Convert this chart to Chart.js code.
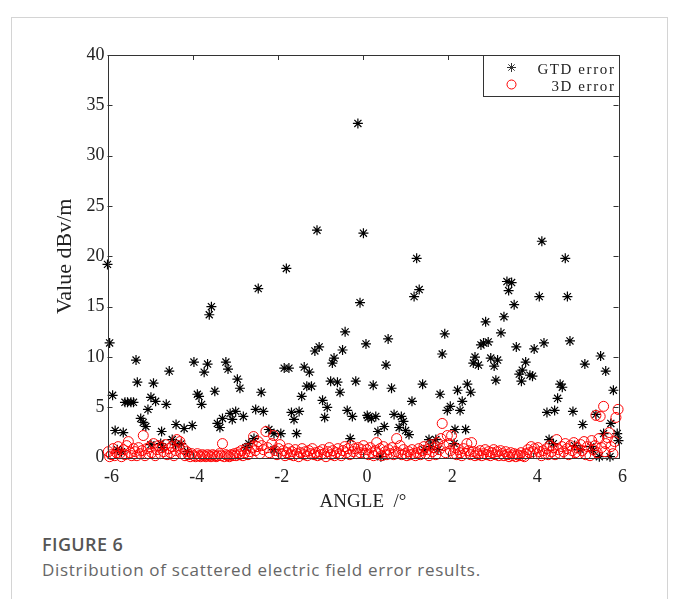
<!DOCTYPE html>
<html lang="en">
<head>
    <meta charset="UTF-8">
    <script src="https://cdn.jsdelivr.net/npm/chart.js"></script>
    <style>
        body {
            margin: 0;
            padding: 0;
            background: #fff;
            width: 680px;
            height: 599px;
            overflow: hidden;
            position: relative;
        }

        .card {
            position: absolute;
            left: 11px;
            top: 17px;
            width: 655px;
            height: 640px;
            border: 1px solid #d4d4d4;
        }

        .plot {
            position: absolute;
            left: 0;
            top: 0;
            width: 680px;
            height: 520px;
        }

        .fig-label {
            position: absolute;
            left: 42px;
            top: 535px;
            font-family: "Open Sans", sans-serif;
            font-weight: 600;
            font-size: 18px;
            line-height: 18px;
            letter-spacing: 0.4px;
            color: #555;
            white-space: nowrap;
        }

        .fig-text {
            position: absolute;
            left: 42px;
            top: 561px;
            font-family: "Open Sans", sans-serif;
            font-size: 17px;
            line-height: 17px;
            letter-spacing: 0.7px;
            color: #666;
            white-space: nowrap;
        }
    </style>
    <title>Distribution of scattered electric field error results</title>
</head>
<body>
    <div class="card"></div>
    <div class="plot"><canvas id="errChart" width="680" height="520"></canvas></div>
    <div class="fig-label">FIGURE 6</div>
    <div class="fig-text">Distribution of scattered electric field error results.</div>
    <script>
        // GTD error points [angle, value]
        const gtdPoints = [
            [-0.12, 33.2], [-1.08, 22.6], [0.01, 22.3], [4.2, 21.5], [4.75, 19.8], [1.26, 19.8],
            [-6.0, 19.2], [-5.95, 11.4], [-5.33, 9.7], [-4.55, 8.6], [-3.97, 9.5], [-3.65, 9.3],
            [-3.73, 8.5], [-3.22, 9.5], [-3.17, 8.8], [-2.95, 7.8], [-3.56, 15.0], [-3.61, 14.2],
            [-5.30, 7.5], [-4.92, 7.4], [-5.88, 6.2], [-5.59, 5.5], [-5.53, 5.5], [-5.45, 5.5],
            [-5.39, 5.5], [-4.98, 6.0], [-4.87, 5.6], [-5.05, 4.8], [-4.62, 5.3], [-3.89, 6.3],
            [-3.85, 6.1], [-3.79, 5.3], [-3.48, 6.6], [-5.22, 3.9], [-5.16, 3.5], [-5.10, 3.1],
            [-5.82, 2.7], [-5.63, 2.5], [-4.73, 2.6], [-4.39, 3.3], [-4.20, 2.9], [-4.01, 3.2],
            [-3.42, 3.4], [-3.36, 3.0], [-3.30, 3.9], [-3.12, 4.4], [-3.07, 3.8], [-2.99, 4.6],
            [-4.75, 1.4], [-4.70, 1.0], [-4.48, 1.8], [-4.40, 1.3], [-4.27, 1.4], [-4.12, 0.6],
            [-5.77, 0.8], [-5.67, 0.6], [-4.98, 1.3],
            [-1.80, 18.8], [-2.46, 16.8], [-0.07, 15.4], [-0.42, 12.5], [0.07, 11.3], [-1.03, 11.0],
            [-1.13, 10.6], [-0.48, 10.7], [-0.68, 9.9], [-0.72, 9.4], [-1.85, 8.9], [-1.74, 8.9],
            [-1.38, 9.0], [-1.26, 8.5], [-2.89, 6.9], [-2.39, 6.5], [-1.32, 7.1], [-1.21, 7.1],
            [-0.76, 7.6], [-0.60, 7.5], [-0.17, 7.6], [-0.54, 6.5], [-1.44, 6.1], [-0.95, 5.7],
            [-0.84, 5.0], [-0.90, 4.0], [-0.37, 4.7], [-0.25, 4.1], [0.10, 4.2], [-2.81, 4.1],
            [-2.52, 4.8], [-2.34, 4.6], [-1.68, 4.5], [-1.50, 4.6], [-1.62, 3.8], [-1.56, 2.4],
            [-1.93, 2.4], [-2.09, 2.4], [-2.21, 2.8], [-0.30, 1.9], [-2.68, 1.4], [-2.75, 1.0],
            [-2.09, 0.8], [-2.56, 1.9],
            [1.32, 16.7], [1.20, 16.0], [0.59, 11.8], [0.54, 9.2], [0.24, 7.2], [0.67, 6.9],
            [1.40, 7.3], [1.15, 5.6], [1.92, 12.3], [1.86, 10.3], [1.81, 6.3], [2.22, 6.7],
            [2.45, 7.3], [2.53, 6.5], [2.05, 5.1], [1.98, 4.7], [2.33, 5.6], [2.28, 4.7],
            [2.88, 13.5], [2.77, 11.2], [2.83, 11.4], [2.94, 11.5], [2.63, 10.0], [2.59, 9.4],
            [2.71, 9.2], [3.00, 9.9], [3.08, 9.1], [3.16, 9.7], [3.12, 7.7], [0.12, 4.0],
            [0.20, 3.9], [0.30, 4.1], [0.73, 4.3], [0.90, 4.1], [0.95, 3.6], [0.50, 3.1],
            [0.35, 2.6], [0.85, 3.0], [1.00, 2.7], [1.08, 2.3], [2.16, 2.8], [2.41, 2.8],
            [1.55, 1.8], [1.71, 1.8], [1.59, 1.1], [1.76, 0.8], [1.43, 0.8], [2.14, 1.4], [0.42, 0.1],
            [3.38, 17.5], [3.49, 17.4], [3.42, 16.6], [3.55, 15.2], [4.14, 16.0], [4.80, 16.0],
            [3.31, 14.0], [3.24, 12.4], [3.60, 11.0], [4.02, 10.8], [4.25, 11.4], [4.86, 11.6],
            [3.82, 9.5], [3.74, 8.7], [3.67, 8.3], [3.72, 7.6], [3.92, 8.2], [3.98, 8.1],
            [5.58, 10.1], [5.21, 9.3], [5.70, 8.6], [4.63, 7.3], [4.68, 7.0], [5.88, 6.7],
            [4.57, 5.9], [4.32, 4.5], [4.50, 4.7], [4.93, 4.6], [5.47, 4.3], [5.16, 3.3],
            [5.82, 3.4], [5.65, 2.4], [5.97, 2.4], [4.37, 1.8], [4.47, 1.4], [6.0, 1.7],
            [4.97, 1.2], [5.10, 0.8], [5.35, 1.1], [5.41, 0.7], [5.55, 0.1], [5.80, 0.1]
        ];

        // 3D error points [angle, value]
        const errPoints = [
            [-5.98, 0.6], [-5.95, 0.1], [-5.91, 0.3], [-5.87, 0.9], [-5.83, 0.2], [-5.79, 0.5], [-5.75, 1.1],
            [-5.71, 0.4], [-5.67, 0.1], [-5.63, 0.8], [-5.59, 0.3], [-5.55, 1.2], [-5.51, 1.6], [-5.47, 0.5],
            [-5.43, 0.2], [-5.39, 0.9], [-5.35, 0.6], [-5.31, 0.2], [-5.27, 1.0], [-5.23, 0.4], [-5.19, 0.7],
            [-5.16, 2.2], [-5.12, 0.2], [-5.08, 0.9], [-5.04, 0.4],
            [-5.00, 1.1], [-4.96, 0.5], [-4.92, 1.4], [-4.88, 0.2], [-4.84, 0.8], [-4.80, 1.2], [-4.76, 0.4],
            [-4.72, 1.0], [-4.68, 0.6], [-4.64, 1.3], [-4.60, 0.3], [-4.56, 0.9], [-4.52, 0.5], [-4.48, 1.1],
            [-4.44, 0.2], [-4.40, 0.7], [-4.37, 1.8], [-4.33, 1.2], [-4.30, 1.6], [-4.26, 0.4], [-4.22, 0.9],
            [-4.18, 0.2], [-4.14, 0.6], [-4.10, 0.3], [-4.06, 0.1], [-4.02, 0.4],
            [-3.97, 0.2], [-3.93, 0.1], [-3.89, 0.4], [-3.85, 0.2], [-3.81, 0.1], [-3.77, 0.3], [-3.73, 0.2],
            [-3.69, 0.1], [-3.65, 0.3], [-3.61, 0.2], [-3.57, 0.1], [-3.53, 0.3], [-3.49, 0.2], [-3.45, 0.1],
            [-3.41, 0.2], [-3.37, 0.4], [-3.33, 0.2], [-3.30, 1.4], [-3.26, 0.1], [-3.22, 0.3], [-3.18, 0.2],
            [-3.14, 0.1], [-3.10, 0.3], [-3.06, 0.2], [-3.02, 0.4],
            [-2.98, 0.2], [-2.94, 0.5], [-2.90, 0.3], [-2.86, 0.7], [-2.82, 0.2], [-2.78, 0.5], [-2.74, 0.9],
            [-2.70, 0.3], [-2.66, 0.6], [-2.62, 1.0], [-2.57, 2.1], [-2.53, 0.7], [-2.49, 1.1], [-2.46, 1.6],
            [-2.42, 0.4], [-2.38, 1.2], [-2.34, 0.8], [-2.28, 2.6], [-2.24, 1.0], [-2.20, 0.5], [-2.14, 1.4],
            [-2.10, 2.2], [-2.06, 0.7], [-2.02, 0.3],
            [-1.98, 0.9], [-1.95, 1.3], [-1.91, 0.4], [-1.87, 0.7], [-1.83, 0.2], [-1.79, 0.5], [-1.75, 0.9],
            [-1.71, 0.3], [-1.67, 0.6], [-1.63, 0.2], [-1.59, 0.8], [-1.55, 0.4], [-1.51, 0.1], [-1.47, 0.5],
            [-1.43, 0.9], [-1.39, 0.3], [-1.35, 0.6], [-1.31, 0.2], [-1.27, 0.7], [-1.23, 0.4], [-1.19, 0.9],
            [-1.15, 0.3], [-1.11, 0.5], [-1.07, 0.2], [-1.03, 0.6],
            [-0.99, 0.3], [-0.95, 0.8], [-0.91, 0.4], [-0.87, 0.1], [-0.83, 0.6], [-0.79, 1.0], [-0.75, 0.3],
            [-0.71, 0.7], [-0.67, 0.2], [-0.63, 0.5], [-0.59, 0.9], [-0.55, 0.4], [-0.51, 0.2], [-0.47, 0.7],
            [-0.43, 1.1], [-0.39, 0.5], [-0.35, 0.9], [-0.31, 0.3], [-0.27, 1.2], [-0.23, 0.6], [-0.19, 0.9],
            [-0.15, 0.4], [-0.11, 1.0], [-0.07, 0.5], [-0.03, 0.8],
            [0.01, 1.2], [0.05, 0.4], [0.09, 0.8], [0.13, 0.3], [0.17, 1.0], [0.21, 0.5], [0.25, 0.2],
            [0.29, 0.7], [0.32, 1.5], [0.36, 0.4], [0.40, 0.9], [0.44, 0.2], [0.48, 1.1], [0.52, 0.6],
            [0.56, 0.3], [0.60, 0.8], [0.64, 0.4], [0.68, 1.0], [0.72, 0.3], [0.76, 0.6], [0.79, 1.9],
            [0.83, 0.5], [0.87, 1.2], [0.91, 0.3], [0.95, 0.8], [0.99, 0.4],
            [1.03, 0.2], [1.07, 0.6], [1.11, 0.3], [1.15, 0.8], [1.19, 0.4], [1.23, 0.2], [1.27, 0.5],
            [1.31, 0.9], [1.35, 0.3], [1.39, 0.7], [1.43, 1.1], [1.47, 0.4], [1.51, 0.8], [1.55, 0.2],
            [1.59, 1.3], [1.63, 0.6], [1.67, 1.0], [1.71, 0.3], [1.75, 1.5], [1.79, 0.8], [1.83, 1.9],
            [1.86, 3.4], [1.90, 1.2], [1.94, 0.5], [1.98, 2.2],
            [2.02, 1.4], [2.05, 0.7], [2.08, 2.2], [2.12, 0.4], [2.16, 1.0], [2.20, 0.3], [2.24, 0.8],
            [2.28, 0.5], [2.32, 0.2], [2.36, 0.9], [2.40, 0.4], [2.44, 1.4], [2.48, 0.7], [2.52, 0.3],
            [2.55, 1.5], [2.59, 0.6], [2.63, 0.2], [2.67, 0.5], [2.71, 0.3], [2.75, 0.7], [2.79, 0.2],
            [2.83, 0.4], [2.87, 0.8], [2.91, 0.3], [2.95, 0.6], [2.99, 0.2],
            [3.03, 0.5], [3.07, 0.8], [3.11, 0.3], [3.15, 0.6], [3.19, 0.2], [3.23, 0.7], [3.27, 0.4],
            [3.31, 0.2], [3.35, 0.6], [3.39, 0.3], [3.43, 0.1], [3.47, 0.5], [3.51, 0.2], [3.55, 0.4],
            [3.59, 0.1], [3.63, 0.3], [3.67, 0.2], [3.71, 0.5], [3.75, 0.2], [3.79, 0.1], [3.83, 0.4],
            [3.87, 0.8], [3.91, 0.5], [3.95, 1.1], [3.99, 0.6],
            [4.03, 0.9], [4.07, 0.4], [4.11, 1.0], [4.15, 0.6], [4.19, 0.2], [4.23, 0.7], [4.27, 0.4],
            [4.31, 0.9], [4.35, 0.3], [4.39, 1.2], [4.43, 0.6], [4.47, 1.0], [4.51, 0.3], [4.55, 1.8],
            [4.59, 0.8], [4.63, 0.4], [4.67, 1.1], [4.71, 0.6], [4.75, 1.4], [4.79, 0.9], [4.83, 0.3],
            [4.87, 1.2], [4.91, 0.7], [4.95, 1.5], [4.99, 0.5],
            [5.03, 1.0], [5.07, 0.4], [5.11, 1.3], [5.15, 0.7], [5.19, 1.6], [5.23, 0.3], [5.27, 1.1],
            [5.33, 0.2], [5.37, 1.7], [5.41, 0.8], [5.47, 4.2], [5.45, 1.2], [5.50, 0.5], [5.54, 1.9],
            [5.57, 4.1], [5.60, 1.0], [5.65, 5.1], [5.68, 0.6], [5.70, 1.4], [5.74, 2.0], [5.78, 2.5],
            [5.82, 1.1], [5.87, 0.4], [5.91, 1.6], [5.94, 4.0], [5.99, 4.8]
        ];

        const xTicks = [-6, -4, -2, 0, 2, 4, 6];
        const yTicks = [0, 5, 10, 15, 20, 25, 30, 35, 40];
        const seriesNames = ["GTD error", "3D error"];

        const axisFont = "'Liberation Serif', 'Times New Roman', serif";
        const axisColor = "#333";

        // box, inward ticks and legend like the matlab figure
        const matlabFrame = {
            id: "matlabFrame",
            afterDraw(chart) {
                const ctx = chart.ctx;
                const ca = chart.chartArea;
                const xs = chart.scales.x;
                const ys = chart.scales.y;
                ctx.save();
                ctx.strokeStyle = axisColor;
                ctx.lineWidth = 1;
                ctx.beginPath();
                xTicks.forEach(v => {
                    const px = Math.round(xs.getPixelForValue(v)) + 0.5;
                    ctx.moveTo(px, ca.bottom);
                    ctx.lineTo(px, ca.bottom - 5);
                    ctx.moveTo(px, ca.top);
                    ctx.lineTo(px, ca.top + 5);
                });
                yTicks.forEach(v => {
                    const py = Math.round(ys.getPixelForValue(v)) + 0.5;
                    ctx.moveTo(ca.left, py);
                    ctx.lineTo(ca.left + 5, py);
                    ctx.moveTo(ca.right, py);
                    ctx.lineTo(ca.right - 5, py);
                });
                ctx.stroke();
                ctx.strokeRect(Math.round(ca.left) + 0.5, Math.round(ca.top) + 0.5,
                    Math.round(ca.right - ca.left), Math.round(ca.bottom - ca.top));

                // legend
                const bw = 136, bh = 41;
                const bx = Math.round(ca.right) - bw + 0.5;
                const by = Math.round(ca.top) + 0.5;
                ctx.fillStyle = "#fff";
                ctx.fillRect(bx, by, bw, bh);
                ctx.strokeStyle = "#333";
                ctx.strokeRect(bx, by, bw, bh);

                Chart.helpers.drawPoint(ctx, {
                    pointStyle: "star", radius: 4.5, borderWidth: 1.2
                }, bx + 28, by + 12);
                ctx.strokeStyle = "#ff0000";
                ctx.lineWidth = 1;
                ctx.beginPath();
                ctx.arc(bx + 28, by + 29, 4.5, 0, Math.PI * 2);
                ctx.stroke();

                ctx.fillStyle = "#222";
                ctx.font = "15px " + axisFont;
                if ("letterSpacing" in ctx) ctx.letterSpacing = "1.6px";
                ctx.textAlign = "right";
                ctx.textBaseline = "middle";
                ctx.fillText(seriesNames[0], bx + bw - 4, by + 15);
                ctx.fillText(seriesNames[1], bx + bw - 4, by + 32);
                ctx.restore();
            }
        };

        const chartCanvas = document.getElementById("errChart");
        new Chart(chartCanvas, {
            type: "scatter",
            data: {
                datasets: [{
                    label: seriesNames[0],
                    data: gtdPoints.map(p => ({ x: p[0], y: p[1] })),
                    pointStyle: "star",
                    pointRadius: 5,
                    borderColor: "#000",
                    backgroundColor: "#000",
                    pointBorderWidth: 1.2,
                    clip: false,
                    order: 2
                }, {
                    label: seriesNames[1],
                    data: errPoints.map(p => ({ x: p[0], y: p[1] })),
                    pointStyle: "circle",
                    pointRadius: 5,
                    borderColor: "#ff0000",
                    backgroundColor: "rgba(0,0,0,0)",
                    pointBorderWidth: 1,
                    clip: false,
                    order: 1
                }]
            },
            options: {
                responsive: false,
                animation: false,
                events: [],
                layout: {
                    padding: { left: 0, right: 61.5, top: 55, bottom: 0 }
                },
                plugins: {
                    legend: { display: false },
                    tooltip: { enabled: false }
                },
                scales: {
                    x: {
                        type: "linear",
                        min: -6,
                        max: 6,
                        afterFit(scale) { scale.height = 62.3; },
                        afterBuildTicks(scale) { scale.ticks = xTicks.map(v => ({ value: v })); },
                        grid: { display: false, drawTicks: false },
                        border: { display: false },
                        ticks: {
                            padding: 9,
                            labelOffset: 4,
                            maxRotation: 0,
                            autoSkip: false,
                            color: "#222",
                            font: { family: axisFont, size: 18 }
                        },
                        title: {
                            display: true,
                            text: "ANGLE  /°",
                            color: "#222",
                            font: { family: axisFont, size: 19 },
                            padding: { top: 0, bottom: 7 }
                        }
                    },
                    y: {
                        type: "linear",
                        min: 0,
                        max: 40,
                        afterFit(scale) { scale.width = 107.5; },
                        afterBuildTicks(scale) { scale.ticks = yTicks.map(v => ({ value: v })); },
                        grid: { display: false, drawTicks: false },
                        border: { display: false },
                        ticks: {
                            padding: 3,
                            autoSkip: false,
                            color: "#222",
                            font: { family: axisFont, size: 18 }
                        },
                        title: {
                            display: true,
                            text: "Value dBv/m",
                            color: "#222",
                            font: { family: axisFont, size: 22 },
                            padding: { top: 52, bottom: 0 }
                        }
                    }
                }
            },
            plugins: [matlabFrame]
        });
    </script>
</body>
</html>
